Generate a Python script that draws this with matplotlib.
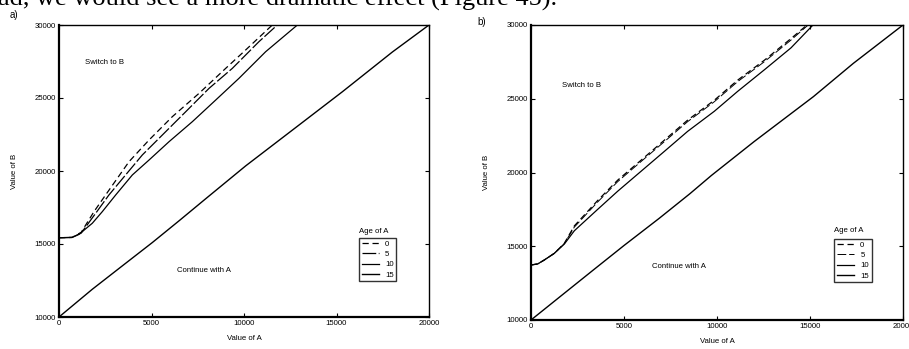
import matplotlib
matplotlib.use("Agg")
import matplotlib.pyplot as plt

plt.rcParams["font.family"] = ["Liberation Sans", "DejaVu Sans"]

# ---- data: panel a) ----
a_x_age0 = [0, 700, 1200, 1890, 2520, 3785, 4865, 6125, 7570, 9010, 10090, 11530]
a_y_age0 = [15430, 15450, 15800, 17215, 18360, 20640, 22120, 23720, 25320, 27030, 28290, 30000]
a_x_age5 = [0, 700, 1200, 1980, 2700, 3600, 4505, 5590, 6850, 8110, 9370, 10810, 11800]
a_y_age5 = [15430, 15450, 15750, 17100, 18360, 19730, 21100, 22470, 24060, 25660, 27030, 28860, 30000]
a_x_age10 = [0, 720, 1080, 1800, 2340, 3065, 3965, 4865, 5950, 7210, 8470, 9730, 11170, 12885]
a_y_age10 = [15430, 15450, 15660, 16420, 17215, 18360, 19730, 20750, 22010, 23380, 24860, 26350, 28170, 30000]
a_x_age15 = [0, 900, 1800, 3400, 5045, 6500, 7930, 10090, 12975, 15320, 18020, 20000]
a_y_age15 = [10000, 10950, 11900, 13480, 15100, 16600, 18100, 20350, 23150, 25430, 28150, 30000]

# ---- data: panel b) ----
b_x_age0 = [0, 360, 717, 1254, 1792, 2330, 3584, 4660, 5914, 7168, 8422, 9856, 11110, 12544, 13978, 14840]
b_y_age0 = [13730, 13800, 14070, 14520, 15200, 16380, 18100, 19480, 20830, 22190, 23550, 24900, 26260, 27610, 29080, 30000]
b_x_age5 = [0, 360, 717, 1254, 1792, 2330, 3584, 4660, 5914, 7168, 8422, 9856, 11110, 12544, 13978, 14900]
b_y_age5 = [13730, 13800, 14070, 14520, 15180, 16300, 18000, 19380, 20740, 22090, 23450, 24800, 26160, 27510, 28980, 30000]
b_x_age10 = [0, 360, 717, 1254, 1792, 2330, 3584, 4660, 5914, 7168, 8422, 9856, 11110, 12544, 13978, 15160]
b_y_age10 = [13730, 13800, 14070, 14520, 15150, 16050, 17500, 18730, 20080, 21430, 22790, 24150, 25500, 26960, 28450, 30000]
b_x_age15 = [0, 1560, 3350, 5000, 6900, 8550, 9700, 12000, 15180, 17330, 20000]
b_y_age15 = [10000, 11580, 13390, 15050, 16900, 18570, 19800, 22100, 25140, 27400, 30000]

ages = ["0", "5", "10", "15"]
x_ticks = [0, 5000, 10000, 15000, 20000]
y_ticks = [10000, 15000, 20000, 25000, 30000]

FS = 5.6

fig = plt.figure(figsize=(9.09, 3.49), dpi=100)
fig.patch.set_facecolor("white")

# cut-off line of body text from the page above
fig.text(-0.002, 1 - 6 / 349, "ad, we would see a more dramatic effect (Figure 45).",
         family="Liberation Serif", fontsize=19, va="baseline", ha="left")

ax_a = fig.add_axes([59 / 909, 1 - 317 / 349, 370 / 909, 292 / 349])
ax_b = fig.add_axes([531 / 909, 1 - 320 / 349, 372 / 909, 295 / 349])


def style_axes(ax):
    ax.set_xlim(0, 20000)
    ax.set_ylim(10000, 30000)
    ax.set_xticks(x_ticks)
    ax.set_yticks(y_ticks)
    ax.set_xticklabels([str(v) for v in x_ticks])
    ax.set_yticklabels([str(v) for v in y_ticks])
    ax.tick_params(direction="in", length=3, width=0.8, top=True, right=True,
                   labelsize=FS, pad=2)
    for s in ["left", "bottom"]:
        ax.spines[s].set_linewidth(1.6)
    for s in ["top", "right"]:
        ax.spines[s].set_linewidth(1.0)
    ax.set_xlabel("Value of A", fontsize=FS, labelpad=6)
    ax.set_ylabel("Value of B", fontsize=FS, labelpad=12)


def draw_panel(ax, curves, switch_xy, cont_xy, leg_xy, title_xy):
    lines = []
    for (xs, ys, dashes, lw), lab in zip(curves, ages):
        ln, = ax.plot(xs, ys, color="black", lw=lw, label=lab)
        if dashes:
            ln.set_dashes(dashes)
        lines.append(ln)
    ax.text(*switch_xy, "Switch to B", fontsize=FS, va="center", ha="left")
    ax.text(*cont_xy, "Continue with A", fontsize=FS, va="center", ha="left")
    ax.text(*title_xy, "Age of A", fontsize=FS, va="bottom", ha="left",
            transform=ax.transAxes)
    leg = ax.legend(handles=lines, loc="upper left", bbox_to_anchor=leg_xy,
                    fontsize=FS, frameon=True, fancybox=False, handlelength=2.2,
                    handletextpad=0.8, labelspacing=0.35, borderpad=0.35,
                    borderaxespad=0)
    leg.get_frame().set_edgecolor("black")
    leg.get_frame().set_linewidth(1.0)
    return lines


style_axes(ax_a)
draw_panel(ax_a,
           [(a_x_age0, a_y_age0, (5, 3), 0.9),
            (a_x_age5, a_y_age5, (11, 2), 0.9),
            (a_x_age10, a_y_age10, None, 0.9),
            (a_x_age15, a_y_age15, None, 1.0)],
           (1400, 27450), (6400, 13200), (0.811, 0.271), (0.811, 0.28))

style_axes(ax_b)
draw_panel(ax_b,
           [(b_x_age0, b_y_age0, (5, 3), 0.9),
            (b_x_age5, b_y_age5, (9, 3), 0.7),
            (b_x_age10, b_y_age10, None, 0.9),
            (b_x_age15, b_y_age15, None, 1.0)],
           (1650, 25900), (6500, 13600), (0.815, 0.275), (0.815, 0.29))

fig.text(10 / 909, 1 - 18 / 349, "a)", fontsize=7, va="baseline")
fig.text(477 / 909, 1 - 25 / 349, "b)", fontsize=7, va="baseline")

fig.savefig("out.png", dpi=100)
